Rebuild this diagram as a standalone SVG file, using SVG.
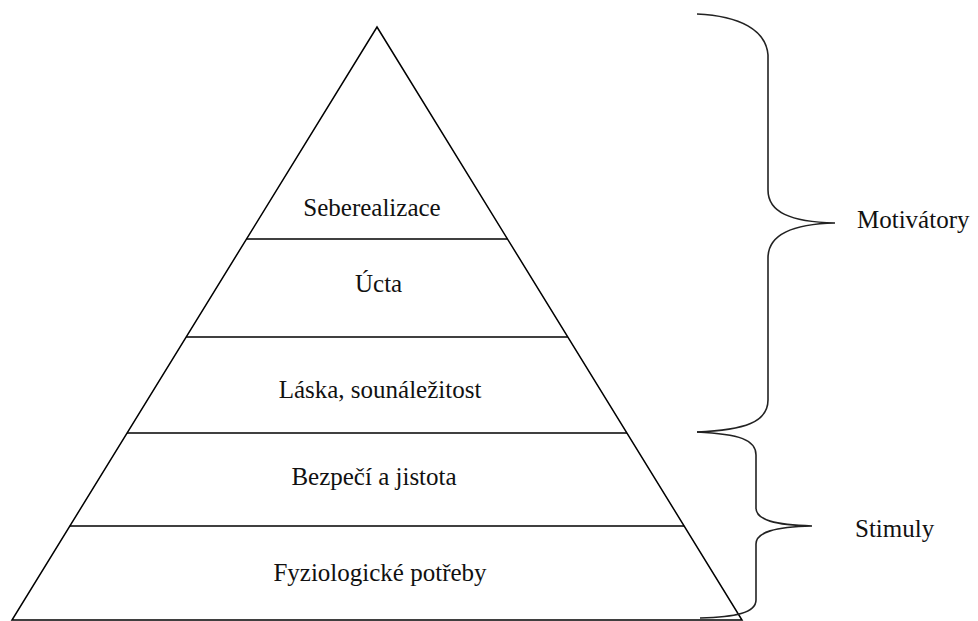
<svg xmlns="http://www.w3.org/2000/svg" width="978" height="621" viewBox="0 0 978 621">
<style>
.ln{stroke:#000;stroke-width:1.5;fill:none}
.br{stroke:#222;stroke-width:1.6;fill:none}
text{font-family:"Liberation Serif","Times New Roman",serif;font-size:25px;fill:#111}
.c{text-anchor:middle}
</style>
<rect width="978" height="621" fill="#fff"/>
<g id="pyramid">
<polygon class="ln" points="377,27 742,620 12,620"/>
</g>
<g id="connectors">
<line class="ln" x1="246.5" y1="239" x2="507.5" y2="239"/>
<line class="ln" x1="186.2" y1="337" x2="567.8" y2="337"/>
<line class="ln" x1="127" y1="433" x2="627" y2="433"/>
<line class="ln" x1="69.9" y1="526" x2="684.1" y2="526"/>
</g>
<g id="level-5"><text class="c" x="372" y="216">Seberealizace</text></g>
<g id="level-4"><text x="355" y="292">Úcta</text></g>
<g id="level-3"><text class="c" x="380" y="398">Láska, sounáležitost</text></g>
<g id="level-2"><text class="c" x="374" y="485">Bezpečí a jistota</text></g>
<g id="level-1"><text class="c" x="380" y="581">Fyziologické potřeby</text></g>
<g id="brace-motivatory">
<path class="br" d="M697,14 C740,16 766,30 768,55 L768,190 C768,212 790,222 835,223 C790,224 768,236 768,258 L768,400 C768,422 745,430 697,432"/>
<text x="857" y="228">Motivátory</text>
</g>
<g id="brace-stimuly">
<path class="br" d="M697,432 C740,434 756,440 756,455 L756,508 C756,520 775,525 812,526 C775,527 756,532 756,544 L756,600 C756,613 735,617 700,618"/>
<text x="855" y="537">Stimuly</text>
</g>
</svg>
